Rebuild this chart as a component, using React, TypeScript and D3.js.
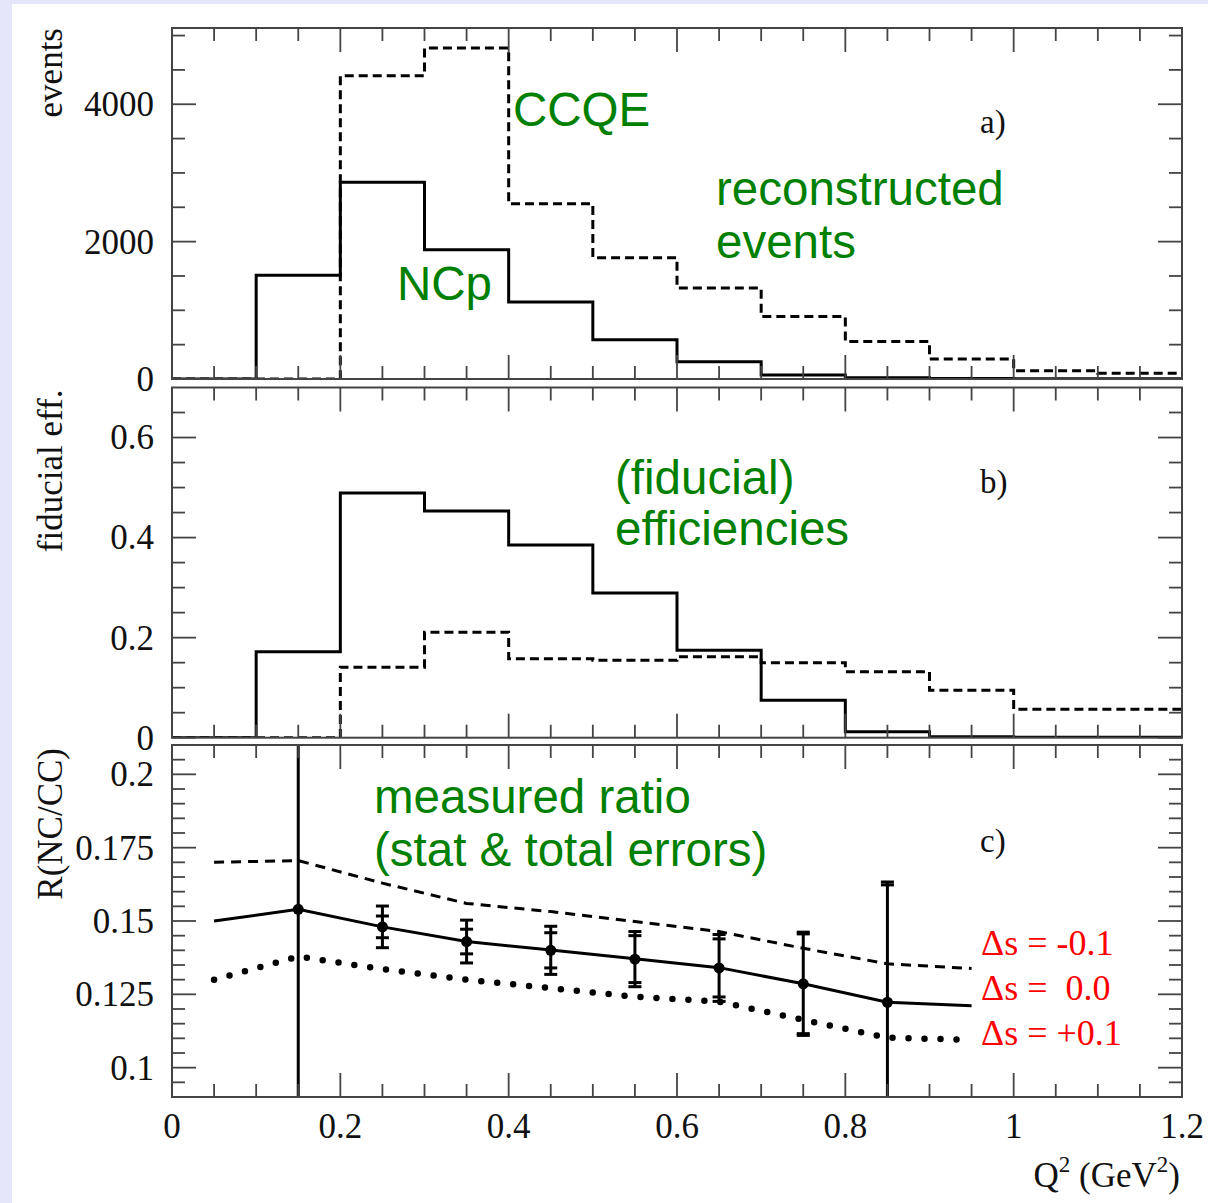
import React from "react";
import * as d3 from "d3";

// ---------- data ----------
const binStarts = [0, 0.1, 0.2, 0.3, 0.4, 0.5, 0.6, 0.7, 0.8, 0.9, 1.0, 1.1];
const binEnd = 1.2;

// panel a: reconstructed events
const eventsNCp = [0, 1510, 2865, 1880, 1120, 570, 250, 60, 18, 6, 4, 3];
const eventsCCQE = [0, 0, 4415, 4820, 2550, 1765, 1325, 910, 545, 290, 120, 85];

// panel b: fiducial efficiencies
const effNCp = [0, 0.172, 0.489, 0.453, 0.385, 0.289, 0.175, 0.075, 0.012, 0.002, 0.001, 0.001];
const effCCQE = [0, 0, 0.141, 0.211, 0.158, 0.155, 0.162, 0.15, 0.132, 0.095, 0.057, 0.057];

// panel c: ratio predictions
const curveQ2 = [0.05, 0.15, 0.25, 0.35, 0.45, 0.55, 0.65, 0.75, 0.85, 0.95];
const ratioDsMinus = [0.17, 0.1706, 0.1629, 0.156, 0.1532, 0.1498, 0.1464, 0.1407, 0.1354, 0.1338];
const ratioDs0 = [0.15, 0.154, 0.148, 0.143, 0.1401, 0.1371, 0.1341, 0.1286, 0.1223, 0.1211];
const ratioDsPlus = [0.13, 0.1379, 0.1336, 0.13, 0.1271, 0.1242, 0.1225, 0.1163, 0.1102, 0.1095];

// panel c: measured ratio
const measQ2 = [0.15, 0.25, 0.35, 0.45, 0.55, 0.65, 0.75, 0.85];
const measR = [0.154, 0.148, 0.143, 0.14, 0.137, 0.134, 0.1286, 0.1223];
const statErr = [0.09, 0.0037, 0.0042, 0.006, 0.008, 0.0099, 0.017, 0.04];
const totalErr = [0.12, 0.0071, 0.0073, 0.0082, 0.0094, 0.0114, 0.0176, 0.041];

// ticks
const xMajorTicks = [0, 0.2, 0.4, 0.6, 0.8, 1.0, 1.2];
const xTickLabels = ["0", "0.2", "0.4", "0.6", "0.8", "1", "1.2"];
const aMajorTicks = [0, 2000, 4000];
const aTickLabels = ["0", "2000", "4000"];
const bMajorTicks = [0, 0.2, 0.4, 0.6];
const bTickLabels = ["0", "0.2", "0.4", "0.6"];
const cMajorTicks = [0.1, 0.125, 0.15, 0.175, 0.2];
const cTickLabels = ["0.1", "0.125", "0.15", "0.175", "0.2"];

const legendLabels = ["\u0394s = -0.1", "\u0394s =  0.0", "\u0394s = +0.1"];

// ---------- layout ----------
const W = 1208;
const H = 1203;
const L = 172;
const R = 1182;
const panels = {
  a: { top: 28, bottom: 379, domain: [0, 5110] },
  b: { top: 387.5, bottom: 737.7, domain: [0, 0.7] },
  c: { top: 745, bottom: 1097, domain: [0.09, 0.21] },
};

const SERIF = "'Liberation Serif', 'Times New Roman', serif";
const SANS = "'Liberation Sans', Arial, sans-serif";
const GREEN = "#008000";
const FRAME = "#444";

const x = d3.scaleLinear().domain([0, 1.2]).range([L, R]);

function histPath(values: number[], y: d3.ScaleLinear<number, number>) {
  const pts: [number, number][] = binStarts.map((b, i) => [b, values[i]]);
  pts.push([binEnd, values[values.length - 1]]);
  return d3
    .line<[number, number]>()
    .x((d) => x(d[0]))
    .y((d) => y(d[1]))
    .curve(d3.curveStepAfter)(pts) as string;
}

function Frame({
  top,
  bottom,
  y,
  yMinor,
  yMajor,
  yLabels,
  xLabels,
}: {
  top: number;
  bottom: number;
  y: d3.ScaleLinear<number, number>;
  yMinor: number[];
  yMajor: number[];
  yLabels: string[];
  xLabels: boolean;
}) {
  const xMinor = d3.range(0, 1.2001, 0.05).filter((v) => !xMajorTicks.some((m) => Math.abs(m - v) < 1e-6));
  const majLen = 24;
  const minLen = 13;
  return (
    <g>
      <rect x={L} y={top} width={R - L} height={bottom - top} fill="none" stroke={FRAME} strokeWidth={2} />
      {xMinor.map((v, i) => (
        <g key={"xm" + i} stroke={FRAME} strokeWidth={1.8}>
          <line x1={x(v)} x2={x(v)} y1={bottom} y2={bottom - minLen} />
          <line x1={x(v)} x2={x(v)} y1={top} y2={top + minLen} />
        </g>
      ))}
      {xMajorTicks.map((v, i) => (
        <g key={"xM" + i} stroke={FRAME} strokeWidth={1.8}>
          <line x1={x(v)} x2={x(v)} y1={bottom} y2={bottom - majLen} />
          <line x1={x(v)} x2={x(v)} y1={top} y2={top + majLen} />
        </g>
      ))}
      {yMinor.map((v, i) => (
        <g key={"ym" + i} stroke={FRAME} strokeWidth={1.8}>
          <line x1={L} x2={L + minLen} y1={y(v)} y2={y(v)} />
          <line x1={R} x2={R - minLen} y1={y(v)} y2={y(v)} />
        </g>
      ))}
      {yMajor.map((v, i) => (
        <g key={"yM" + i} stroke={FRAME} strokeWidth={1.8}>
          <line x1={L} x2={L + majLen} y1={y(v)} y2={y(v)} />
          <line x1={R} x2={R - majLen} y1={y(v)} y2={y(v)} />
        </g>
      ))}
      {yMajor.map((v, i) => (
        <text
          key={"yl" + i}
          x={L - 18}
          y={y(v)}
          dy="0.34em"
          textAnchor="end"
          fontFamily={SERIF}
          fontSize={35}
          fill="#111"
        >
          {yLabels[i]}
        </text>
      ))}
      {xLabels &&
        xMajorTicks.map((v, i) => (
          <text key={"xl" + i} x={x(v)} y={1138} textAnchor="middle" fontFamily={SERIF} fontSize={35} fill="#111">
            {xTickLabels[i]}
          </text>
        ))}
    </g>
  );
}

export default function App() {
  const ya = d3.scaleLinear().domain(panels.a.domain).range([panels.a.bottom, panels.a.top]);
  const yb = d3.scaleLinear().domain(panels.b.domain).range([panels.b.bottom, panels.b.top]);
  const yc = d3.scaleLinear().domain(panels.c.domain).range([panels.c.bottom, panels.c.top]);

  const aMinor = d3.range(0, 5001, 500).filter((v) => !aMajorTicks.includes(v));
  const bMinor = d3.range(0, 0.6501, 0.05).filter((v) => !bMajorTicks.some((m) => Math.abs(m - v) < 1e-6));
  const cMinor = d3.range(0.09, 0.21001, 0.005).filter((v) => !cMajorTicks.some((m) => Math.abs(m - v) < 1e-6));

  const ratioLine = (vals: number[]) =>
    d3
      .line<number>()
      .x((_, i) => x(curveQ2[i]))
      .y((d) => yc(d))(vals) as string;

  const capW = 6.5;

  return (
    <svg
      width={W}
      height={H}
      style={{ position: "absolute", left: 0, top: 0, display: "block" }}
      xmlns="http://www.w3.org/2000/svg"
    >
      <defs>
        {(["a", "b", "c"] as const).map((k) => (
          <clipPath id={"clip-" + k} key={k}>
            <rect x={L} y={panels[k].top} width={R - L} height={panels[k].bottom - panels[k].top} />
          </clipPath>
        ))}
      </defs>
      <rect x={0} y={0} width={W} height={H} fill="#e6e6fa" />
      <rect x={12} y={4} width={W - 12} height={H - 4} fill="#ffffff" />

      {/* ---------- panel a ---------- */}
      <g clipPath="url(#clip-a)" fill="none" stroke="#000" strokeWidth={3}>
        <path d={histPath(eventsCCQE, ya)} strokeDasharray="9,5" />
        <path d={histPath(eventsNCp, ya)} />
      </g>
      <Frame
        top={panels.a.top}
        bottom={panels.a.bottom}
        y={ya}
        yMinor={aMinor}
        yMajor={aMajorTicks}
        yLabels={aTickLabels}
        xLabels={false}
      />

      {/* ---------- panel b ---------- */}
      <g clipPath="url(#clip-b)" fill="none" stroke="#000" strokeWidth={3}>
        <path d={histPath(effCCQE, yb)} strokeDasharray="9,5" />
        <path d={histPath(effNCp, yb)} />
      </g>
      <Frame
        top={panels.b.top}
        bottom={panels.b.bottom}
        y={yb}
        yMinor={bMinor}
        yMajor={bMajorTicks}
        yLabels={bTickLabels}
        xLabels={false}
      />

      {/* ---------- panel c ---------- */}
      <g clipPath="url(#clip-c)" fill="none" stroke="#000">
        <path d={ratioLine(ratioDsMinus)} strokeWidth={3} strokeDasharray="10,7" />
        <path d={ratioLine(ratioDsPlus)} strokeWidth={6.5} strokeDasharray="0,16" strokeLinecap="round" />
        <path d={ratioLine(ratioDs0)} strokeWidth={3} />
        {measQ2.map((q, i) => {
          const cx = x(q);
          const yHi = yc(measR[i] + totalErr[i]);
          const yLo = yc(measR[i] - totalErr[i]);
          const sHi = yc(measR[i] + statErr[i]);
          const sLo = yc(measR[i] - statErr[i]);
          return (
            <g key={"m" + i}>
              <line x1={cx} x2={cx} y1={yHi} y2={yLo} strokeWidth={3} />
              {[yHi, yLo, sHi, sLo].map((yy, j) => (
                <line key={j} x1={cx - capW} x2={cx + capW} y1={yy} y2={yy} strokeWidth={3} />
              ))}
              <circle cx={cx} cy={yc(measR[i])} r={5.5} fill="#000" stroke="none" />
            </g>
          );
        })}
      </g>
      <Frame
        top={panels.c.top}
        bottom={panels.c.bottom}
        y={yc}
        yMinor={cMinor}
        yMajor={cMajorTicks}
        yLabels={cTickLabels}
        xLabels={true}
      />

      {/* axis titles */}
      {[
        { t: "events", top: panels.a.top },
        { t: "fiducial eff.", top: panels.b.top + 2 },
        { t: "R(NC/CC)", top: panels.c.top + 3 },
      ].map((d, i) => (
        <text
          key={"yt" + i}
          transform={`translate(62,${d.top}) rotate(-90)`}
          textAnchor="end"
          fontFamily={SERIF}
          fontSize={35}
          fill="#111"
        >
          {d.t}
        </text>
      ))}
      <text x={1180} y={1187} textAnchor="end" fontFamily={SERIF} fontSize={35} fill="#111">
        Q
        <tspan dy={-15} fontSize={23}>
          2
        </tspan>
        <tspan dy={15}>{" (GeV"}</tspan>
        <tspan dy={-15} fontSize={23}>
          2
        </tspan>
        <tspan dy={15}>)</tspan>
      </text>

      {/* panel letters */}
      <text x={980} y={133} fontFamily={SERIF} fontSize={33} fill="#111">a)</text>
      <text x={980} y={493} fontFamily={SERIF} fontSize={33} fill="#111">b)</text>
      <text x={980} y={852} fontFamily={SERIF} fontSize={33} fill="#111">c)</text>

      {/* green annotations */}
      <g fontFamily={SANS} fontSize={47.5} fill={GREEN}>
        <text x={513} y={126}>CCQE</text>
        <text x={716} y={205}>reconstructed</text>
        <text x={716} y={258}>events</text>
        <text x={397} y={300}>NCp</text>
        <text x={615} y={494}>(fiducial)</text>
        <text x={615} y={545}>efficiencies</text>
        <text x={374} y={813}>measured ratio</text>
        <text x={374} y={866}>(stat &amp; total errors)</text>
      </g>

      {/* red legend */}
      <g fontFamily={SERIF} fontSize={36} fill="#ff0000">
        {legendLabels.map((t, i) => (
          <text key={"lg" + i} x={981} y={955 + i * 45} style={{ whiteSpace: "pre" }}>
            {t}
          </text>
        ))}
      </g>
    </svg>
  );
}
